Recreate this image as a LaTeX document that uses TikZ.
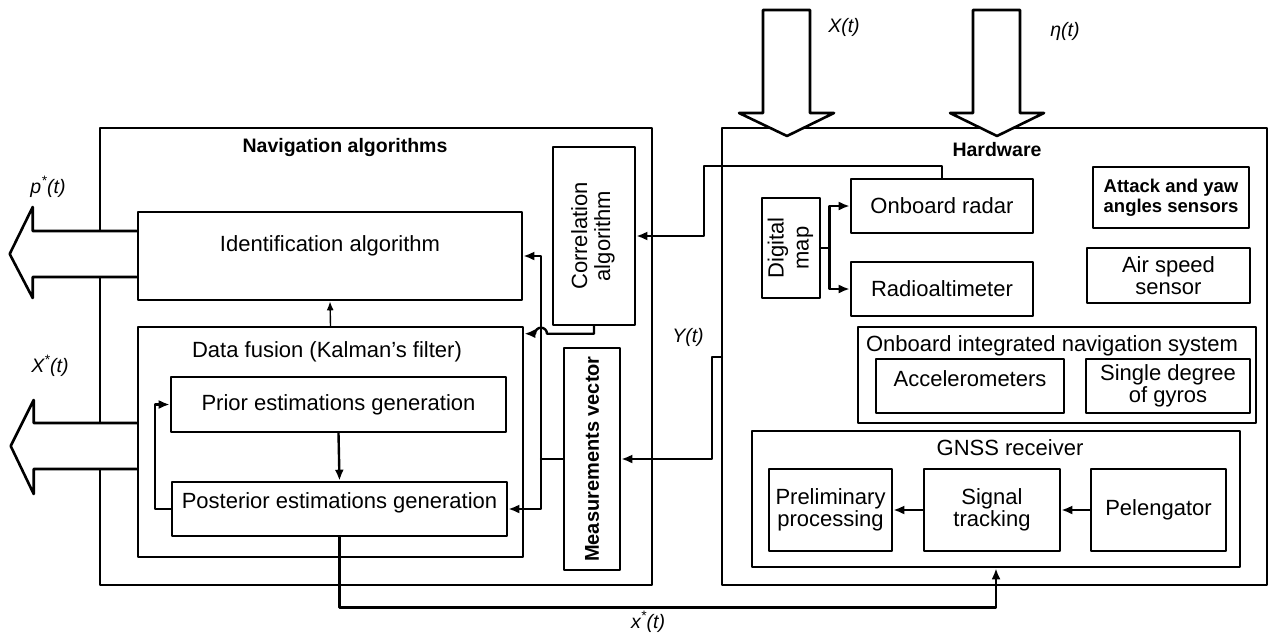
\documentclass[tikz,border=0pt]{standalone}
\usepackage{fontspec}
\setmainfont{Liberation Sans}
\usetikzlibrary{arrows.meta,calc}

\newcommand\vtext[1]{\rotatebox{90}{\begin{tabular}{@{}c@{}}#1\end{tabular}}}

\tikzset{
  blk/.style={draw, line width=2.6pt, inner sep=0pt, align=center, font=\fontsize{22}{22}\selectfont},
  frame/.style={draw, line width=2.6pt, inner sep=0pt},
  ttl/.style={inner sep=0pt, font=\fontsize{22}{22}\selectfont},
  btl/.style={inner sep=0pt, font=\bfseries\fontsize{19.5}{22}\selectfont},
  sig/.style={inner sep=0pt, font=\itshape\fontsize{19.5}{22}\selectfont},
  wire/.style={line width=2.4pt},
  conn/.style={wire, -{Latex[length=11pt,width=9pt]}},
  bigarrow/.style={line width=2.6pt, fill=white},
}

\begin{document}
\begin{tikzpicture}[line cap=round,line join=round,x=1pt,y=-1pt]
\useasboundingbox (0,0) rectangle (1271,637);

% navigation algorithms
\node[frame, minimum width=552pt, minimum height=457pt] (nav) at (376,356.5) {};
\node[btl] (navtitle) at (345,147) {Navigation algorithms};
\node[blk, minimum width=384pt, minimum height=88pt, text height=16pt, text depth=26pt] (ident) at (330,256) {Identification algorithm};
\node[blk, minimum width=82pt, minimum height=178pt, font=\fontsize{22}{23}\selectfont] (corr) at (594,236) {\vtext{Correlation\\algorithm}};
\node[frame, minimum width=385pt, minimum height=230pt] (fusion) at (330.5,442) {};
\node[ttl] (fusiontitle) at (327,352) {Data fusion (Kalman's filter)};
\node[blk, minimum width=335pt, minimum height=55pt] (prior) at (338.5,404.5) {Prior estimations generation};
\node[blk, minimum width=335pt, minimum height=54pt, text height=16pt, text depth=18pt] (post) at (339.5,509) {Posterior estimations generation};
\node[blk, minimum width=56pt, minimum height=222pt, font=\bfseries\fontsize{20}{22}\selectfont] (meas) at (592,459) {\rotatebox{90}{Measurements vector}};

% hardware
\node[frame, minimum width=545pt, minimum height=457pt] (hw) at (994.5,356.5) {};
\node[btl] (hwtitle) at (997,150) {Hardware};
\node[blk, minimum width=58pt, minimum height=100pt, font=\fontsize{22}{25}\selectfont] (dmap) at (791,248) {\vtext{Digital\\map}};
\node[blk, minimum width=182pt, minimum height=54pt] (radar) at (942,206) {Onboard radar};
\node[blk, minimum width=182pt, minimum height=54pt] (radio) at (942,289) {Radioaltimeter};
\node[blk, minimum width=156pt, minimum height=61pt, font=\bfseries\fontsize{18.5}{20}\selectfont] (attack) at (1171,197.5) {Attack and yaw\\angles sensors};
\node[blk, minimum width=163pt, minimum height=55pt] (airspeed) at (1168.5,275.5) {Air speed\\sensor};
\node[frame, minimum width=398pt, minimum height=96pt] (ins) at (1057,375) {};
\node[ttl] (institle) at (1052,346) {Onboard integrated navigation system};
\node[blk, minimum width=188pt, minimum height=54pt, text height=16pt, text depth=16pt] (accel) at (970,386) {Accelerometers};
\node[blk, minimum width=164pt, minimum height=54pt] (gyros) at (1168,386) {Single degree\\of gyros};
\node[frame, minimum width=488pt, minimum height=136pt] (gnss) at (996,499) {};
\node[ttl] (gnsstitle) at (1010,448) {GNSS receiver};
\node[blk, minimum width=123pt, minimum height=82pt] (prelim) at (830.5,510) {Preliminary\\processing};
\node[blk, minimum width=136pt, minimum height=82pt] (track) at (992,510) {Signal\\tracking};
\node[blk, minimum width=135pt, minimum height=82pt] (peleng) at (1158.5,510) {Pelengator};

% connectors
\coordinate (cbend) at (704,166);
\coordinate (ytap) at (722,357);
\coordinate (mjoin) at (541,459);
\draw[conn] (radar.north) |- (cbend) |- (corr.east);
\draw[conn] (ytap) -- ++(-10,0) |- (meas.east);
\draw[wire] (meas.west) -- (mjoin);
\draw[conn] (mjoin) |- (ident.east);
\draw[conn] (mjoin) |- (post.east);
\draw[conn] (corr.south) |- ($(mjoin |- fusion.north east)+(6,8)$) arc[start angle=0, end angle=180, radius=6pt] -- ([yshift=-8pt]fusion.north east);
\draw[wire, line width=1.4pt, -{Latex[length=9pt,width=7pt]}] (fusion.north) -- (ident.south);
\draw[conn] (prior.south) -- (post.north);
\draw[conn] (post.west) -- ++(-16,0) |- (prior.west);
\draw[wire] (dmap.east) -- ++(8,0) coordinate (dsplit);
\draw[conn] (dsplit) |- (radar.west);
\draw[conn] (dsplit) |- (radio.west);
\draw[conn] (peleng.west) -- (track.east);
\draw[conn] (track.west) -- (prelim.east);
\draw[conn] (post.south) -- ++(0,70) -| (gnss.south);

% big arrows
\draw[bigarrow] ($(ident.west)+(0,-25)$) -- ++(-104,0) -- ++(0,-24) -- ++(-23,47) -- ++(23,44) -- ++(0,-21) -- ($(ident.west)+(0,21)$);
\draw[bigarrow] ($(fusion.west)+(0,-19)$) -- ++(-103,0) -- ++(0,-23) -- ++(-23,46) -- ++(23,48) -- ++(0,-25) -- ($(fusion.west)+(0,27)$);
\draw[bigarrow] (763,10) -- (763,113) -- (739,113) -- (787,136) -- (834,113) -- (810,113) -- (810,10) -- cycle;
\draw[bigarrow] (973,10) -- (973,113) -- (950,113) -- (997,136) -- (1044,113) -- (1020,113) -- (1020,10) -- cycle;

% signals
\node[sig] (pout) at (48,187) {p\textsuperscript{*}(t)};
\node[sig] (xout) at (50,366) {X\textsuperscript{*}(t)};
\node[sig] (xin) at (844,27) {X(t)};
\node[sig] (etain) at (1065,31) {η(t)};
\node[sig] (yin) at (688,337) {Y(t)};
\node[sig] (xfb) at (648,622) {x\textsuperscript{*}(t)};
\end{tikzpicture}
\end{document}
